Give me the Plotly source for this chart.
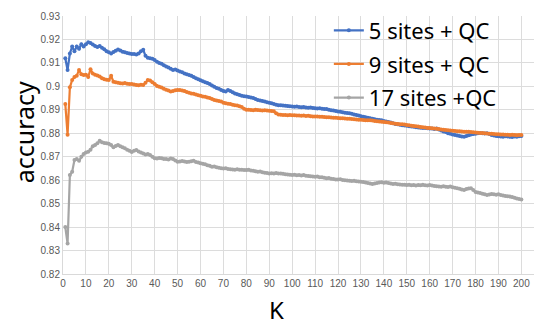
import plotly.graph_objects as go

K = list(range(1, 201))

sites5_qc = [
    0.9120, 0.9070, 0.9140, 0.9170, 0.9150, 0.9170, 0.9160, 0.9180, 0.9170, 0.9180,
    0.9188, 0.9185, 0.9178, 0.9172, 0.9168, 0.9172, 0.9165, 0.9158, 0.9150, 0.9145,
    0.9140, 0.9147, 0.9152, 0.9157, 0.9153, 0.9148, 0.9145, 0.9142, 0.9140, 0.9138,
    0.9138, 0.9136, 0.9140, 0.9150, 0.9156, 0.9130, 0.9122, 0.9120, 0.9118, 0.9112,
    0.9105, 0.9100, 0.9096, 0.9090, 0.9085, 0.9080, 0.9075, 0.9070, 0.9072, 0.9068,
    0.9063, 0.9060, 0.9055, 0.9052, 0.9048, 0.9045, 0.9040, 0.9035, 0.9030, 0.9026,
    0.9022, 0.9018, 0.9014, 0.9010, 0.9004, 0.8998, 0.8993, 0.8990, 0.8985, 0.8980,
    0.8978, 0.8984, 0.8980, 0.8975, 0.8970, 0.8966, 0.8963, 0.8960, 0.8958, 0.8957,
    0.8955, 0.8953, 0.8950, 0.8946, 0.8942, 0.8940, 0.8938, 0.8935, 0.8932, 0.8930,
    0.8928, 0.8925, 0.8922, 0.8920, 0.8920, 0.8918, 0.8917, 0.8916, 0.8915, 0.8914,
    0.8913, 0.8914, 0.8912, 0.8911, 0.8912, 0.8910, 0.8909, 0.8910, 0.8908, 0.8907,
    0.8906, 0.8907, 0.8905, 0.8903, 0.8904, 0.8900, 0.8898, 0.8897, 0.8895, 0.8893,
    0.8892, 0.8890, 0.8888, 0.8886, 0.8885, 0.8883, 0.8880, 0.8878, 0.8876, 0.8873,
    0.8870, 0.8868, 0.8866, 0.8864, 0.8862, 0.8860, 0.8858, 0.8857, 0.8855, 0.8852,
    0.8850, 0.8848, 0.8846, 0.8843, 0.8840, 0.8838, 0.8836, 0.8834, 0.8833, 0.8832,
    0.8830, 0.8829, 0.8828, 0.8826, 0.8825, 0.8824, 0.8823, 0.8822, 0.8821, 0.8820,
    0.8820, 0.8818, 0.8820, 0.8816, 0.8812, 0.8808, 0.8805, 0.8800, 0.8798, 0.8795,
    0.8793, 0.8790, 0.8788, 0.8786, 0.8785, 0.8788, 0.8792, 0.8795, 0.8797, 0.8798,
    0.8800, 0.8801, 0.8800, 0.8799, 0.8800, 0.8797, 0.8793, 0.8790, 0.8788, 0.8787,
    0.8786, 0.8785, 0.8787, 0.8786, 0.8785, 0.8784, 0.8786, 0.8785, 0.8787, 0.8788,
]

sites9_qc = [
    0.8925, 0.8794, 0.8996, 0.9027, 0.9040, 0.9045, 0.9070, 0.9052, 0.9048, 0.9050,
    0.9040, 0.9073, 0.9055, 0.9050, 0.9046, 0.9042, 0.9035, 0.9030, 0.9028, 0.9027,
    0.9045, 0.9020, 0.9018, 0.9015, 0.9013, 0.9012, 0.9014, 0.9011, 0.9010, 0.9010,
    0.9008, 0.9006, 0.9005, 0.9007, 0.9006, 0.9015, 0.9027, 0.9025, 0.9018, 0.9010,
    0.9002, 0.8998, 0.8995, 0.8990, 0.8986, 0.8982, 0.8978, 0.8980, 0.8983, 0.8984,
    0.8984, 0.8982, 0.8980, 0.8976, 0.8973, 0.8970, 0.8968, 0.8965, 0.8962, 0.8960,
    0.8957, 0.8956, 0.8953, 0.8950, 0.8946, 0.8942, 0.8940, 0.8938, 0.8935, 0.8930,
    0.8928, 0.8926, 0.8925, 0.8922, 0.8920, 0.8918, 0.8915, 0.8912, 0.8905, 0.8900,
    0.8900, 0.8899, 0.8898, 0.8900, 0.8899, 0.8898, 0.8897, 0.8898, 0.8897, 0.8896,
    0.8895, 0.8894, 0.8885, 0.8880, 0.8879, 0.8878, 0.8878, 0.8877, 0.8878, 0.8877,
    0.8877, 0.8876, 0.8876, 0.8875, 0.8876, 0.8874, 0.8875, 0.8873, 0.8872, 0.8872,
    0.8871, 0.8870, 0.8870, 0.8869, 0.8868, 0.8868, 0.8867, 0.8866, 0.8866, 0.8865,
    0.8864, 0.8864, 0.8863, 0.8862, 0.8862, 0.8861, 0.8860, 0.8859, 0.8858, 0.8858,
    0.8857, 0.8856, 0.8855, 0.8855, 0.8854, 0.8852, 0.8851, 0.8850, 0.8849, 0.8848,
    0.8847, 0.8846, 0.8844, 0.8843, 0.8841, 0.8840, 0.8839, 0.8838, 0.8837, 0.8835,
    0.8834, 0.8832, 0.8831, 0.8830, 0.8829, 0.8827, 0.8826, 0.8825, 0.8823, 0.8822,
    0.8821, 0.8820, 0.8819, 0.8818, 0.8816, 0.8815, 0.8814, 0.8813, 0.8812, 0.8811,
    0.8810, 0.8809, 0.8809, 0.8808, 0.8807, 0.8806, 0.8806, 0.8805, 0.8804, 0.8803,
    0.8802, 0.8801, 0.8801, 0.8800, 0.8799, 0.8798, 0.8798, 0.8797, 0.8796, 0.8796,
    0.8795, 0.8795, 0.8794, 0.8794, 0.8793, 0.8794, 0.8793, 0.8792, 0.8793, 0.8793,
]

sites17_qc = [
    0.8400, 0.8330, 0.8622, 0.8636, 0.8686, 0.8690, 0.8683, 0.8700, 0.8712, 0.8718,
    0.8721, 0.8730, 0.8745, 0.8750, 0.8757, 0.8768, 0.8762, 0.8758, 0.8757, 0.8755,
    0.8750, 0.8740, 0.8746, 0.8750, 0.8745, 0.8740, 0.8736, 0.8730, 0.8725, 0.8720,
    0.8726, 0.8729, 0.8722, 0.8718, 0.8714, 0.8710, 0.8712, 0.8707, 0.8700, 0.8693,
    0.8692, 0.8695, 0.8693, 0.8690, 0.8690, 0.8688, 0.8692, 0.8690, 0.8684, 0.8679,
    0.8680, 0.8682, 0.8680, 0.8678, 0.8679, 0.8681, 0.8683, 0.8678, 0.8675, 0.8672,
    0.8670, 0.8668, 0.8664, 0.8661, 0.8657, 0.8658, 0.8655, 0.8653, 0.8651, 0.8650,
    0.8651, 0.8648, 0.8647, 0.8646, 0.8645, 0.8647, 0.8645, 0.8644, 0.8643, 0.8643,
    0.8644, 0.8641, 0.8640, 0.8638, 0.8636, 0.8637, 0.8634, 0.8632, 0.8631, 0.8629,
    0.8630, 0.8629, 0.8631, 0.8628, 0.8629, 0.8627, 0.8625, 0.8624, 0.8623, 0.8622,
    0.8623, 0.8621, 0.8622, 0.8620, 0.8622, 0.8619, 0.8618, 0.8617, 0.8616, 0.8615,
    0.8616, 0.8613, 0.8612, 0.8610, 0.8608, 0.8609, 0.8606, 0.8605, 0.8603, 0.8603,
    0.8604, 0.8601, 0.8600, 0.8599, 0.8598, 0.8597, 0.8598, 0.8595, 0.8594, 0.8593,
    0.8592, 0.8590, 0.8588, 0.8586, 0.8584, 0.8586, 0.8588, 0.8590, 0.8591, 0.8589,
    0.8590, 0.8588, 0.8586, 0.8584, 0.8585, 0.8583, 0.8582, 0.8580, 0.8581, 0.8579,
    0.8580, 0.8578, 0.8579, 0.8577, 0.8579, 0.8578, 0.8580, 0.8578, 0.8577, 0.8579,
    0.8577, 0.8575, 0.8574, 0.8573, 0.8572, 0.8574, 0.8572, 0.8571, 0.8573, 0.8570,
    0.8568, 0.8566, 0.8563, 0.8560, 0.8558, 0.8562, 0.8565, 0.8566, 0.8558, 0.8550,
    0.8548, 0.8545, 0.8542, 0.8540, 0.8537, 0.8539, 0.8541, 0.8540, 0.8538, 0.8540,
    0.8537, 0.8535, 0.8533, 0.8531, 0.8530, 0.8528, 0.8525, 0.8522, 0.8520, 0.8518,
]

series_names = ["5 sites + QC", "9 sites + QC", "17 sites +QC"]
series_values = [sites5_qc, sites9_qc, sites17_qc]
series_colors = ["#4472C4", "#ED7D31", "#A5A5A5"]

x_ticks = list(range(0, 201, 10))
y_ticks = [0.82, 0.83, 0.84, 0.85, 0.86, 0.87, 0.88, 0.89, 0.90, 0.91, 0.92, 0.93]
y_tick_text = ["0.82", "0.83", "0.84", "0.85", "0.86", "0.87", "0.88", "0.89", "0.9", "0.91", "0.92", "0.93"]

fig = go.Figure()
for i, (name, vals, col) in enumerate(zip(series_names, series_values, series_colors)):
    fig.add_trace(go.Scatter(
        x=K, y=vals, name=name, mode="lines+markers", legendgroup=f"g{i}",
        line=dict(color=col, width=2.2),
        marker=dict(color=col, size=4),
    ))

# page has an 8px body margin; the figure is sized so the plot area fills to the right edge
fig.update_layout(
    width=534, height=317,
    margin=dict(l=55, r=0, t=8, b=51),
    paper_bgcolor="white", plot_bgcolor="white",
    font=dict(family="Liberation Sans, Arial, sans-serif", color="#595959"),
    showlegend=True,
    legend=dict(
        x=0.555, y=1.025, xanchor="left", yanchor="top",
        bgcolor="rgba(0,0,0,0)", borderwidth=0,
        font=dict(family="Noto Sans, sans-serif", size=22, color="black"),
        itemwidth=30, tracegroupgap=2,
    ),
    xaxis=dict(
        range=[0, 209], tickmode="array", tickvals=x_ticks,
        showgrid=True, gridcolor="#DCDCDC", gridwidth=1,
        showline=True, linecolor="#D9D9D9", linewidth=1,
        zeroline=False, ticks="", tickfont=dict(size=10, color="#595959"),
    ),
    yaxis=dict(
        range=[0.82, 0.93], tickmode="array", tickvals=y_ticks, ticktext=y_tick_text,
        showgrid=True, gridcolor="#DCDCDC", gridwidth=1,
        showline=True, linecolor="#D9D9D9", linewidth=1,
        zeroline=False, ticks="", tickfont=dict(size=10, color="#595959"),
    ),
    annotations=[
        dict(text="accuracy", xref="paper", yref="paper", x=-0.081, y=0.55,
             xanchor="center", yanchor="middle", textangle=-90, showarrow=False,
             font=dict(family="Noto Sans, sans-serif", size=25, color="black")),
        dict(text="K", xref="paper", yref="paper", x=0.445, y=-0.138,
             xanchor="center", yanchor="middle", showarrow=False,
             font=dict(family="Noto Sans, sans-serif", size=24, color="black")),
    ],
)

fig.write_html("out.html")
